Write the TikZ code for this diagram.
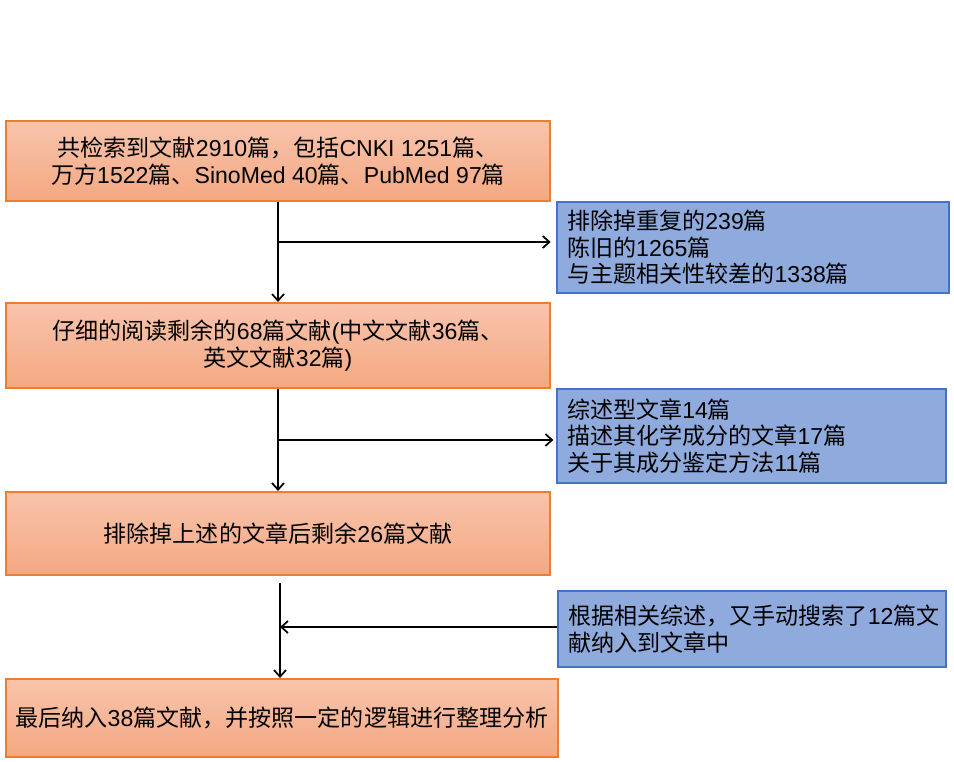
\documentclass[tikz,border=0pt]{standalone}
\usepackage{fontspec}
\setmainfont{Liberation Sans}
\newfontfamily\cjk{Noto Sans CJK SC}
\newfontfamily\latin{Liberation Sans}
\usetikzlibrary{arrows.meta}
\XeTeXinterchartokenstate=1
\newXeTeXintercharclass\cjkclass
\newcount\mycnt
\mycnt="4E00
\loop\ifnum\mycnt<"A000 \XeTeXcharclass\mycnt=\cjkclass \advance\mycnt by 1 \repeat
\mycnt="3000
\loop\ifnum\mycnt<"3040 \XeTeXcharclass\mycnt=\cjkclass \advance\mycnt by 1 \repeat
\mycnt="FF00
\loop\ifnum\mycnt<"FFF0 \XeTeXcharclass\mycnt=\cjkclass \advance\mycnt by 1 \repeat
\XeTeXinterchartoks 0 \cjkclass = {\cjk}
\XeTeXinterchartoks 4095 \cjkclass = {\cjk}
\XeTeXinterchartoks \cjkclass 0 = {\latin}
\definecolor{obord}{HTML}{ED7D31}
\definecolor{otop}{HTML}{F8C4AC}
\definecolor{obot}{HTML}{F4A882}
\definecolor{bbord}{HTML}{4472C4}
\definecolor{bfill}{HTML}{8FAADC}
\tikzset{
  obox/.style={draw=obord, line width=1.5pt, top color=otop, bottom color=obot,
    align=center, inner sep=0pt, font=\fontsize{17.3}{20}\selectfont\latin},
  bbox/.style={draw=bbord, line width=1.5pt, fill=bfill, align=left,
    inner xsep=7.5pt, inner ysep=0pt, font=\fontsize{17.3}{20}\selectfont\latin},
  arr/.style={line width=1.5pt, -{Straight Barb[length=5pt,width=9pt,line width=1.3pt]}},
  ln/.style={line width=1.5pt}
}
\begin{document}
\begin{tikzpicture}[x=0.75pt,y=-0.75pt]
\useasboundingbox[fill=white] (0,0) rectangle (954,762);
\node[obox, minimum width=408pt, minimum height=60pt] (b1) at (278,161)
  {共检索到文献2910篇，包括CNKI 1251篇、\\万方1522篇、SinoMed 40篇、PubMed 97篇};
\node[bbox, minimum width=294pt, text width=279pt, minimum height=68.25pt] (b2) at (753,247.5)
  {排除掉重复的239篇\\陈旧的1265篇\\与主题相关性较差的1338篇};
\node[obox, minimum width=408pt, minimum height=63.75pt] (b3) at (278,345.5)
  {仔细的阅读剩余的68篇文献(中文文献36篇、\\英文文献32篇)};
\node[bbox, minimum width=291.75pt, text width=276.75pt, minimum height=70.5pt] (b4) at (751.5,436)
  {综述型文章14篇\\描述其化学成分的文章17篇\\关于其成分鉴定方法11篇};
\node[obox, minimum width=408pt, minimum height=62.25pt] (b5) at (278,533.5)
  {排除掉上述的文章后剩余26篇文献};
\node[bbox, minimum width=291pt, text width=276pt, minimum height=57pt] (b6) at (752,629)
  {根据相关综述，又手动搜索了12篇文\\献纳入到文章中};
\node[obox, minimum width=414pt, minimum height=58.5pt] (b7) at (282,718)
  {最后纳入38篇文献，并按照一定的逻辑进行整理分析};
% connectors
\coordinate (j1) at (278,242);
\coordinate (j2) at (278,440);
\coordinate (s3) at (280,583);
\coordinate (j3) at (280,627);
\draw[arr] (b1.south -| j1) -- (b3.north -| j1);
\draw[arr, shorten >=4pt] (j1) -- (j1 -| b2.west);
\draw[arr] (b3.south -| j2) -- (b5.north -| j2);
\draw[arr, shorten >=2pt] (j2) -- (j2 -| b4.west);
\draw[arr] (s3) -- (b7.north -| s3);
\draw[arr] (j3 -| b6.west) -- (j3);
\end{tikzpicture}
\end{document}
